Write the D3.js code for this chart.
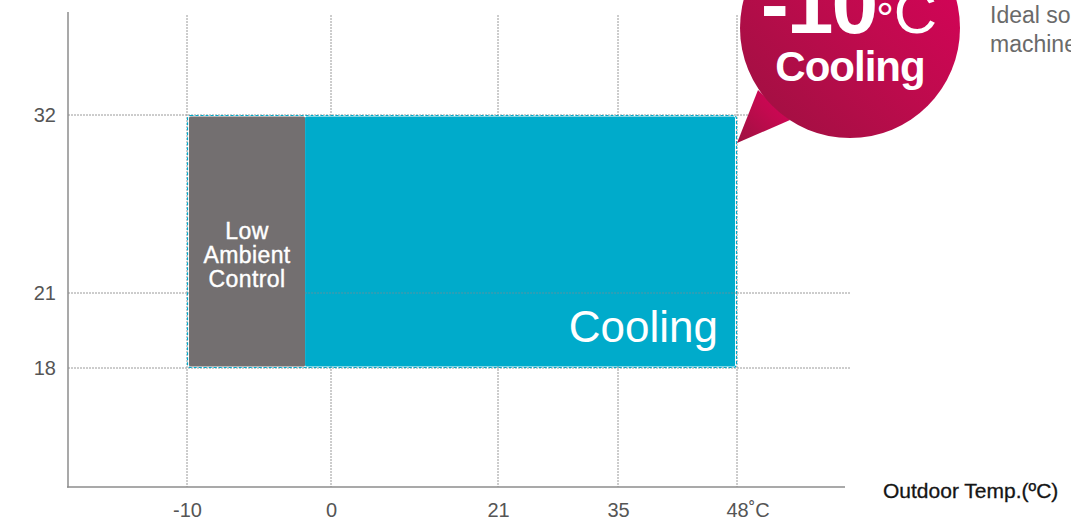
<!DOCTYPE html>
<html>
<head>
<meta charset="utf-8">
<script src="https://cdn.jsdelivr.net/npm/d3@7"></script>
<style>
  html, body { margin: 0; padding: 0; background: #fff; }
  svg { display: block; font-family: "Liberation Sans", Arial, Helvetica, sans-serif; }
</style>
</head>
<body>
<svg id="chart" width="1071" height="520"></svg>
<script>
// ---- data ----
const xTicks = [-10, 0, 21, 35, 48];          // outdoor temp tick values
const xTickLabels = ["-10", "0", "21", "35", "48"];
const yTicks = [18, 21, 32];                  // indoor temp tick values
const zoneNames = ["Low Ambient Control", "Cooling"];
const zoneStart = [-10, -1.8];
const zoneEnd = [-1.8, 48];
const zoneLow = [18, 18];
const zoneHigh = [32, 32];
const zoneColors = ["#736f70", "#00abcb"];
const calloutBig = "-10";
const calloutSmall = "Cooling";
const sideText = ["Ideal solution for server rooms and", "machine rooms"];
const xTitle = "Outdoor Temp.(ºC)";

// ---- layout ----
const svg = d3.select("#chart");
const x = d3.scaleLinear().domain(xTicks).range([187, 331, 498, 618, 737]);
const y = d3.scaleLinear().domain(yTicks).range([368, 293, 115]);
const axisLeftX = 68, axisBottomY = 487, axisTopY = 12, axisRightX = 845;
const gridColor = "#9a9a9a";

// gridlines
const grid = svg.append("g");
grid.selectAll("line.v").data(xTicks).join("line")
  .attr("x1", d => x(d)).attr("x2", d => x(d))
  .attr("y1", 15).attr("y2", axisBottomY)
  .attr("stroke", gridColor).attr("stroke-width", 1).attr("stroke-dasharray", "2,1");
grid.selectAll("line.h").data(yTicks).join("line")
  .attr("x1", axisLeftX).attr("x2", 850)
  .attr("y1", d => y(d)).attr("y2", d => y(d))
  .attr("stroke", gridColor).attr("stroke-width", 1).attr("stroke-dasharray", "2,1");

// zones
const zones = zoneNames.map((n, i) => ({name: n, x0: zoneStart[i], x1: zoneEnd[i], y0: zoneLow[i], y1: zoneHigh[i], c: zoneColors[i]}));
svg.append("rect")
  .attr("x", x(d3.min(zoneStart)) + 0.5).attr("y", y(d3.max(zoneHigh)) + 0.5)
  .attr("width", x(d3.max(zoneEnd)) - x(d3.min(zoneStart)) - 1)
  .attr("height", y(d3.min(zoneLow)) - y(d3.max(zoneHigh)) - 1)
  .attr("rx", 3).attr("fill", "none")
  .attr("stroke", "#00abcb").attr("stroke-width", 1.2).attr("stroke-dasharray", "3,2");
svg.selectAll("rect.zone").data(zones).join("rect")
  .attr("class", "zone")
  .attr("x", (d, i) => x(d.x0) + (i === 0 ? 2 : 0))
  .attr("y", d => y(d.y1) + 1.5)
  .attr("width", (d, i) => x(d.x1) - x(d.x0) - 2)
  .attr("height", d => y(d.y0) - y(d.y1) - 3)
  .attr("rx", 1.5)
  .attr("fill", d => d.c);

// 21 gridline visible over the cooling zone
svg.append("line")
  .attr("x1", x(zoneStart[1])).attr("x2", x(zoneEnd[1]) - 2)
  .attr("y1", y(21)).attr("y2", y(21))
  .attr("stroke", "#6f8f99").attr("stroke-width", 1).attr("stroke-dasharray", "2,1").attr("opacity", 0.8);

// zone labels
const lowCx = (x(zoneStart[0]) + x(zoneEnd[0])) / 2 + 1;
const lowLbl = svg.append("text")
  .attr("text-anchor", "middle").attr("fill", "#fff")
  .attr("font-size", 23).attr("letter-spacing", 0.4)
  .attr("stroke", "#fff").attr("stroke-width", 0.4);
["Low", "Ambient", "Control"].forEach((w, i) => {
  lowLbl.append("tspan").attr("x", lowCx).attr("y", 239 + i * 24).text(w);
});
svg.append("text")
  .attr("x", x(zoneEnd[1]) - 19).attr("y", 342)
  .attr("text-anchor", "end").attr("fill", "#fff")
  .attr("font-size", 44).text(zoneNames[1]);

// axes lines
svg.append("line").attr("x1", axisLeftX).attr("x2", axisLeftX).attr("y1", axisTopY).attr("y2", axisBottomY + 0.5)
  .attr("stroke", "#8c8c8c").attr("stroke-width", 1.5);
svg.append("line").attr("x1", axisLeftX - 1).attr("x2", axisRightX).attr("y1", axisBottomY).attr("y2", axisBottomY)
  .attr("stroke", "#8c8c8c").attr("stroke-width", 1.5);

// x axis
const xa = svg.append("g").attr("transform", `translate(0,${axisBottomY})`)
  .call(d3.axisBottom(x).tickValues(xTicks).tickSize(0).tickPadding(16)
    .tickFormat((d, i) => xTickLabels[i]));
xa.select(".domain").remove();
xa.selectAll("text").attr("font-size", 20).attr("fill", "#555").attr("font-family", null);
const lastTick = xa.selectAll(".tick text").filter((d, i, n) => i === n.length - 1);
const w48 = lastTick.node().getComputedTextLength();
lastTick.append("tspan").text("˚C");
lastTick.attr("text-anchor", "start").attr("x", -w48 / 2);

// y axis
const ya = svg.append("g").attr("transform", `translate(${axisLeftX},0)`)
  .call(d3.axisLeft(y).tickValues(yTicks).tickSize(0).tickPadding(12));
ya.select(".domain").remove();
ya.selectAll("text").attr("font-size", 20).attr("fill", "#555").attr("font-family", null);

// x title
svg.append("text").attr("x", 883).attr("y", 498)
  .attr("font-size", 21).attr("fill", "#151515")
  .attr("stroke", "#151515").attr("stroke-width", 0.3).text(xTitle);

// side text
sideText.forEach((t, i) => {
  svg.append("text").attr("x", 990).attr("y", 23 + i * 29)
    .attr("font-size", 23).attr("fill", "#6a6a6a").text(t);
});

// callout bubble
const defs = svg.append("defs");
const grad = defs.append("linearGradient").attr("id", "bub")
  .attr("x1", "0%").attr("y1", "100%").attr("x2", "100%").attr("y2", "0%");
grad.append("stop").attr("offset", "0%").attr("stop-color", "#9c1140");
grad.append("stop").attr("offset", "55%").attr("stop-color", "#c10a4e");
grad.append("stop").attr("offset", "100%").attr("stop-color", "#dc005c");
const bub = svg.append("g");
const cx = 850, cy = 28, r = 110;
const tipX = x(48), tipY = 143;
bub.append("path")
  .attr("d", `M${cx - 92},${cy + 62} L${tipX},${tipY} L${cx - 60},${cy + 92} Z`)
  .attr("fill", "url(#bub)");
bub.append("circle").attr("cx", cx).attr("cy", cy).attr("r", r).attr("fill", "url(#bub)");
const big = bub.append("text").attr("x", 849).attr("y", 33).attr("text-anchor", "middle")
  .attr("fill", "#fff").attr("font-size", 84);
big.append("tspan").attr("font-weight", "bold").attr("letter-spacing", -2).text(calloutBig);
big.append("tspan").attr("font-size", 44).attr("dy", 1).text("°");
big.append("tspan").attr("font-size", 60).attr("dy", -1).text("C");
bub.append("text").attr("x", 850).attr("y", 81).attr("text-anchor", "middle")
  .attr("fill", "#fff").attr("font-size", 42).attr("font-weight", "bold").attr("letter-spacing", -1)
  .text(calloutSmall);
</script>
</body>
</html>
